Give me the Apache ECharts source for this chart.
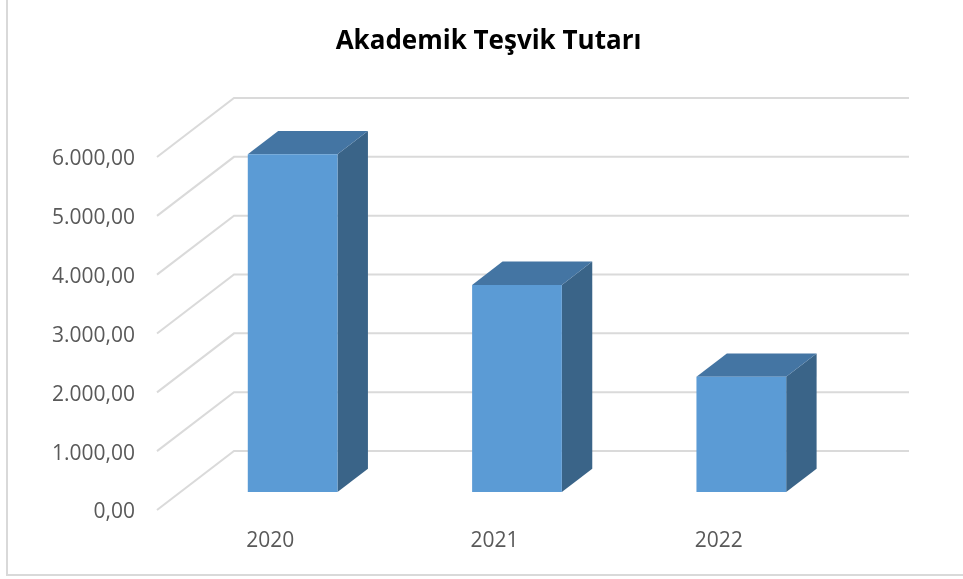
<!DOCTYPE html>
<html>
<head>
<meta charset="utf-8">
<style>html,body{margin:0;padding:0;background:#fff}#c{width:963px;height:579px}</style>
<script src="https://cdn.jsdelivr.net/npm/echarts@6/dist/echarts.min.js"></script>
</head>
<body>
<div id="c"></div>
<script>
const titleText = 'Akademik Teşvik Tutarı';
const categories = ['2020', '2021', '2022'];
const values = [5740, 3520, 1960];
const tickValues = [0, 1000, 2000, 3000, 4000, 5000, 6000];
const tickLabels = ['0,00', '1.000,00', '2.000,00', '3.000,00', '4.000,00', '5.000,00', '6.000,00'];

const DX = 77, DY = 59;             // floor depth of the oblique projection
const NEAR = 0.305, FAR = 0.7;      // bar front/back position within the depth
const BAR = 0.4;                    // bar width as a share of the category band
const WALL_EXTRA = 2;               // back wall runs slightly past the last band
const FONT = '"Open Sans", "Noto Sans", sans-serif';

const chart = echarts.init(document.getElementById('c'), null, {renderer: 'canvas'});

function renderWall(params, api) {
  const cs = params.coordSys;
  const p = api.coord([0, api.value(0)]);
  const y = p[1];
  return {
    type: 'polyline',
    shape: {points: [[cs.x, y], [cs.x + DX, y - DY], [cs.x + cs.width + DX + WALL_EXTRA, y - DY]]},
    style: {fill: 'none', stroke: '#DADADA', lineWidth: 2},
    silent: true
  };
}

function renderBar(params, api) {
  const cat = api.value(0);
  const base = api.coord([cat, 0]);
  const top = api.coord([cat, api.value(1)]);
  const w = api.size([1, 0])[0] * BAR;
  const nx = DX * NEAR, ny = DY * NEAR;
  const ddx = DX * (FAR - NEAR), ddy = DY * (FAR - NEAR);
  const x0 = base[0] - w / 2 + nx, x1 = x0 + w;
  const yb = base[1] - ny, yt = top[1] - ny;
  return {
    type: 'group',
    children: [
      {type: 'polygon', shape: {points: [[x1, yt], [x1 + ddx, yt - ddy], [x1 + ddx, yb - ddy], [x1, yb]]},
       style: {fill: '#3A6488'}},
      {type: 'polygon', shape: {points: [[x0, yt], [x0 + ddx, yt - ddy], [x1 + ddx, yt - ddy], [x1, yt]]},
       style: {fill: '#4475A3'}},
      {type: 'rect', shape: {x: x0, y: yt, width: w, height: yb - yt},
       style: {fill: '#5B9BD5'}}
    ]
  };
}

chart.setOption({
  animation: false,
  backgroundColor: '#fff',
  title: {
    text: titleText, left: 483.5, top: 24, textAlign: 'center',
    textStyle: {fontFamily: FONT, fontSize: 26, fontWeight: 'bold', color: '#000'}
  },
  grid: {left: 157, top: 157, width: 673, height: 353},
  xAxis: {
    type: 'category', data: categories,
    axisLine: {show: false}, axisTick: {show: false}, splitLine: {show: false},
    axisLabel: {fontFamily: FONT, fontSize: 21, color: '#595959', margin: 21, padding: [0, 0, 0, 2]}
  },
  yAxis: {
    type: 'value', min: 0, max: 6000, interval: 1000,
    axisLine: {show: false}, axisTick: {show: false}, splitLine: {show: false},
    axisLabel: {
      margin: 22,
      formatter: v => '{t|' + tickLabels[tickValues.indexOf(v)] + '}',
      rich: {t: {fontFamily: FONT, fontSize: 21, color: '#595959', padding: [5, 0, 0, 0]}}
    }
  },
  series: [
    {type: 'custom', renderItem: renderWall, data: tickValues.map(v => [v]),
     encode: {y: 0}, silent: true, z: 1, clip: false},
    {type: 'custom', renderItem: renderBar, data: values.map((v, i) => [i, v]),
     encode: {x: 0, y: 1}, z: 2, clip: false}
  ],
  graphic: [{
    type: 'polyline', silent: true, z: 0,
    shape: {points: [[7, 0], [7, 575], [963, 575]]},
    style: {fill: 'none', stroke: '#D9D9D9', lineWidth: 2}
  }]
});
</script>
</body>
</html>
